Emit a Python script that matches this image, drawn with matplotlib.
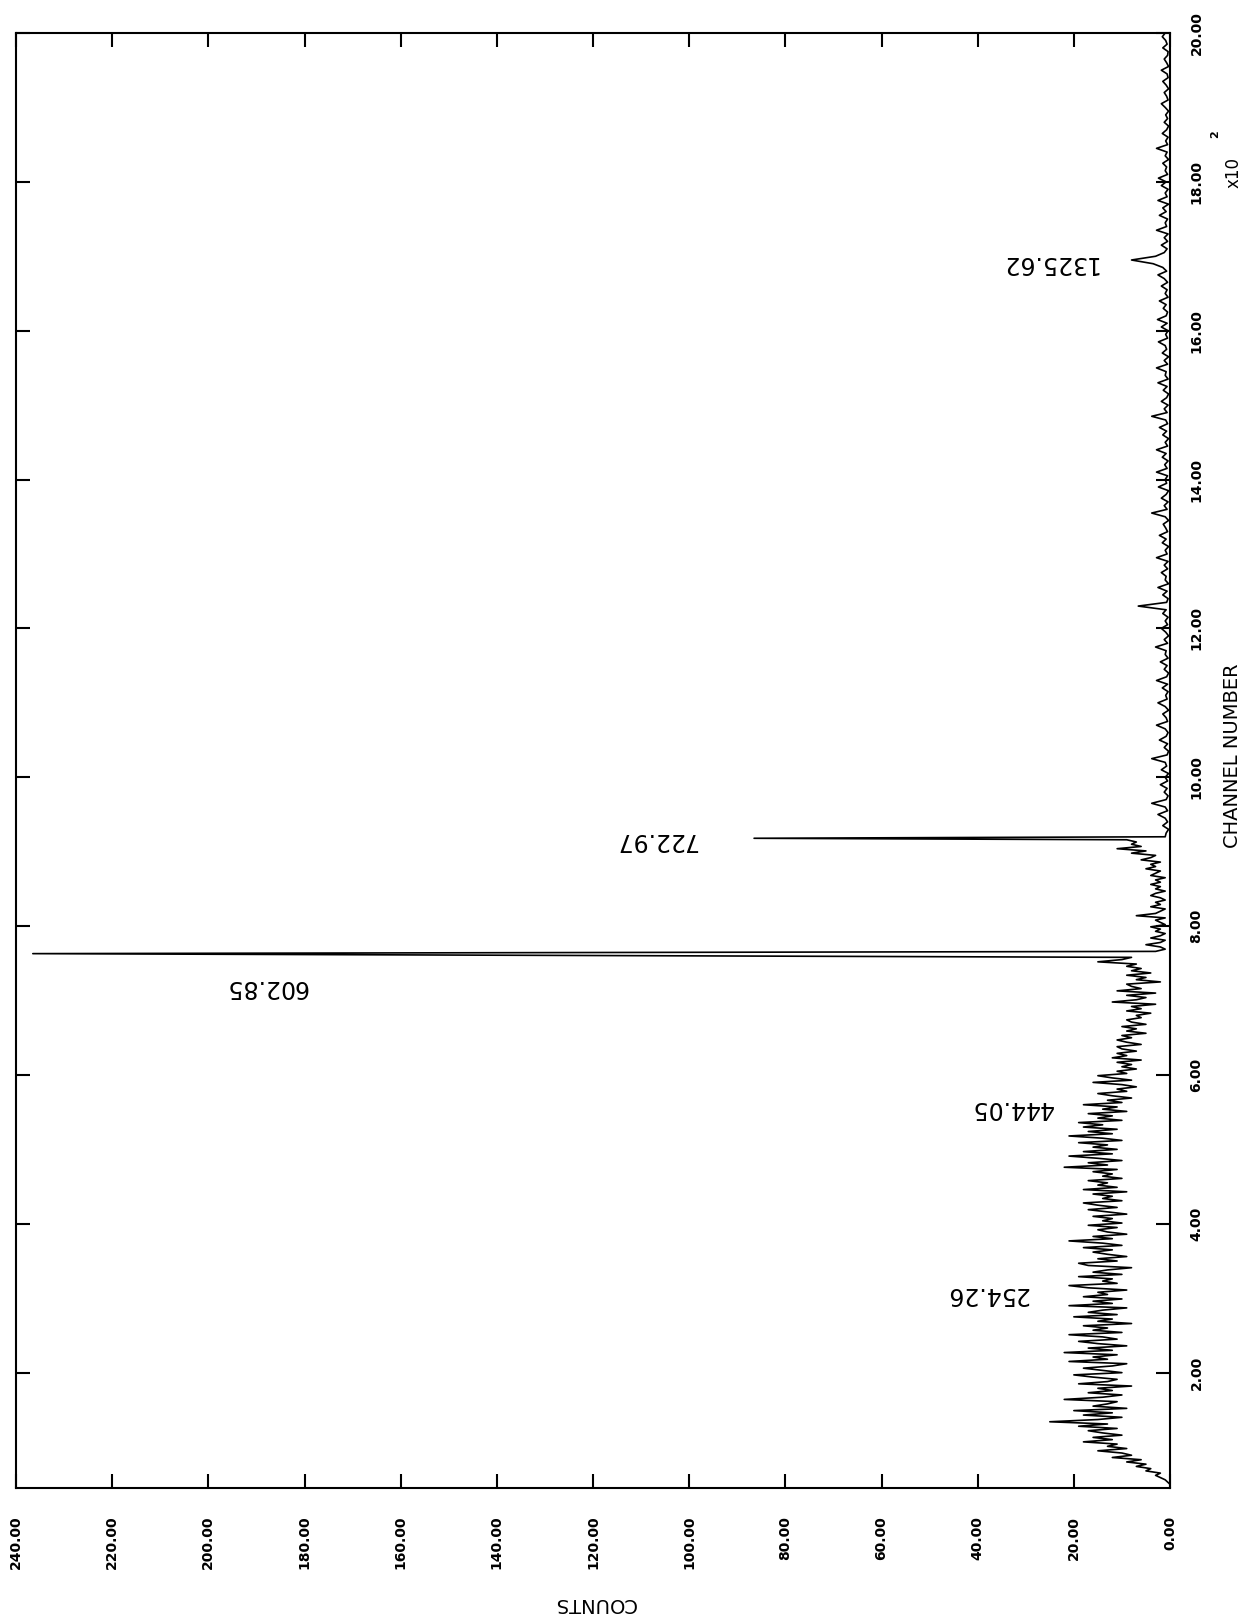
import numpy as np
import matplotlib
matplotlib.use("Agg")
import matplotlib.pyplot as plt

# ---------------- data ----------------
low_start, low_step = 50, 3
low_counts = [
    0, 0.5, 1, 2, 3, 2, 5, 4, 7, 5, 9, 6, 12, 8, 10, 15, 9, 13, 11, 18,
    12, 16, 10, 14, 17, 11, 19, 13, 25, 15, 10, 18, 12, 20, 9, 16, 13, 11, 22, 14,
    10, 17, 12, 15, 8, 19, 13, 11, 16, 20, 10, 14, 18, 12, 9, 21, 13, 16, 11, 22,
    12, 17, 9, 15, 19, 11, 14, 21, 10, 16, 13, 18, 8, 15, 12, 20, 11, 17, 14, 9,
    21, 12, 16, 10, 18, 13, 15, 9, 17, 21, 11, 14, 12, 19, 10, 16, 13, 8, 17, 19,
    11, 15, 9, 13, 16, 12, 18, 10, 14, 21, 12, 16, 9, 13, 15, 11, 17, 10, 14, 12,
    16, 9, 13, 17, 11, 15, 18, 10, 14, 12, 16, 9, 18, 11, 15, 13, 17, 10, 14, 12,
    16, 11, 22, 13, 17, 10, 15, 21, 12, 18, 11, 16, 13, 19, 10, 14, 21, 12, 17, 11,
    18, 14, 19, 10, 15, 12, 17, 9, 14, 11, 18, 10, 13, 8, 12, 15, 9, 11, 7, 10,
    16, 8, 12, 15, 9, 11, 7, 10, 8, 11, 6, 12, 9, 11, 7, 10, 11, 6, 9, 11,
    8, 10, 5, 9, 7, 10, 5, 8, 9, 6, 7, 4, 9, 6, 8, 3, 12, 7, 5, 9,
    3, 11, 6, 8, 9, 2, 7, 5, 9, 4, 8, 6, 9, 7, 15, 10, 8,
]
mid_start, mid_step = 766, 3
mid_counts = [
    3, 1, 2, 5, 2, 1, 4, 2, 1, 3, 2, 4, 1, 2, 3, 1, 7, 3, 2, 1,
    4, 2, 3, 1, 2, 4, 3, 1, 3, 2, 4, 2, 3, 1, 4, 3, 2, 5, 3, 4,
    2, 6, 4, 3, 8, 5, 11, 6, 8, 7, 9,
]
high_start, high_step = 920, 5
high_counts = [
    1,
    0.8, 0.3, 1.5, 0.5, 1, 2.5, 0.5, 1, 3.8, 0.8, 0.4, 1.2, 0.6, 2, 0.5, 1, 0.3, 1.8, 0.7, 1,
    3.8, 0.6, 0.3, 1.2, 0.5, 2.2, 0.8, 0.4, 1, 2.8, 0.5, 0.8, 1.5, 0.3, 1, 2.5, 0.6, 0.9, 0.4, 1.6,
    0.5, 2.8, 0.7, 0.3, 1.2, 0.6, 2, 0.4, 1, 0.8, 3, 0.5, 1.2, 0.3, 0.9, 1.8, 0.5, 1, 0.4, 1.5,
    0.8, 6.6, 0.7, 0.4, 1.5, 0.6, 2.5, 0.3, 1, 0.8, 1.8, 0.5, 1.2, 0.4, 2.8, 0.6, 1, 0.3, 1.6, 0.8,
    2.2, 0.5, 0.9, 1.4, 0.3, 1, 3.8, 0.6, 1.2, 0.4, 1.8, 0.8, 0.3, 2.4, 0.7, 1, 0.5, 2.8, 0.6, 1.1,
    0.4, 1.6, 0.8, 2.8, 0.5, 1, 0.3, 1.5, 0.7, 2.2, 0.5, 0.9, 3.8, 0.6, 1.2, 0.4, 1.8, 0.7, 0.3, 1.4,
    0.6, 2.5, 0.4, 1, 0.8, 2.8, 0.5, 1.2, 0.3, 1.6, 0.7, 1, 2.4, 0.5, 0.9, 0.4, 1.8, 0.6, 2.6, 0.8,
    0.5, 1.4, 0.8, 2.2, 0.4, 1, 0.6, 1.8, 0.5, 1.2, 2.5, 0.7, 1.5, 3.5, 8, 3, 1.2, 0.6, 1.8, 0.5,
    1.2, 0.4, 2.8, 0.7, 1, 0.5, 2.2, 0.8, 1.5, 0.3, 2.5, 0.6, 1, 0.4, 1.8, 0.8, 2.4, 0.5, 1, 0.7,
    1.5, 0.3, 1, 0.6, 2.8, 0.5, 0.9, 0.4, 1.6, 0.7, 0.3, 1.2, 0.5, 0.9, 0.3, 1, 1.8, 0.4, 0.7, 1.2,
    0.3, 0.8, 1.5, 0.4, 0.6, 1.8, 0.3, 0.7, 1.2, 0.5, 0.4, 1.5, 0.6, 0.9, 1.6, 1,
]
peak_channels = [763, 918]
peak_counts = [236.5, 86.5]

count_ticks = [0, 20, 40, 60, 80, 100, 120, 140, 160, 180, 200, 220, 240]
channel_ticks = [200, 400, 600, 800, 1000, 1200, 1400, 1600, 1800, 2000]

peak_labels = ["1325.62", "722.97", "602.85", "444.05", "254.26"]
label_channels = [1691, 916, 718, 556, 305]
label_counts = [25.2, 106.9, 188.0, 33.0, 38.0]

# ---------------- assemble spectrum ----------------
ch = np.concatenate([
    low_start + low_step * np.arange(len(low_counts)),
    mid_start + mid_step * np.arange(len(mid_counts)),
    high_start + high_step * np.arange(len(high_counts)),
    np.array(peak_channels),
]).astype(float)
ct = np.concatenate([low_counts, mid_counts, high_counts, peak_counts]).astype(float)
order = np.argsort(ch)
ch, ct = ch[order], ct[order]

# ---------------- figure ----------------
W, H = 1253, 1622
fig = plt.figure(figsize=(W / 100, H / 100), dpi=100)
L, R, T, B = 16, 1170, 33, 1488
ax = fig.add_axes([L / W, 1 - B / H, (R - L) / W, (B - T) / H])

ax.plot(ct, ch, color="black", lw=1.2)

ax.set_xlim(240, 0)
ax.set_ylim(45, 2000)

for s in ax.spines.values():
    s.set_linewidth(1.5)

ax.set_xticks(count_ticks)
ax.set_xticklabels([f"{v:.2f}" for v in count_ticks], rotation=90,
                   fontsize=10, fontweight="bold")
ax.set_yticks(channel_ticks)
ax.set_yticklabels([f"{v / 100:.2f}" for v in channel_ticks], rotation=90,
                   fontsize=10, fontweight="bold", va="center")
ax.tick_params(axis="x", direction="in", length=10, width=1.5, top=True,
               bottom=True, labelbottom=True, labeltop=False, pad=20)
ax.tick_params(axis="y", direction="in", length=10, width=1.5, left=True,
               right=True, labelleft=False, labelright=True, pad=14)

for lab, c, n in zip(peak_labels, label_counts, label_channels):
    ax.text(c, n, lab, rotation=180, ha="center", va="center", fontsize=17)

fig.text(1232 / W, 1 - 756 / H, "CHANNEL NUMBER", rotation=90,
         ha="center", va="center", fontsize=14)
fig.text(1234 / W, 1 - 172 / H, "x10", rotation=90,
         ha="center", va="center", fontsize=12)
fig.text(1215 / W, 1 - 134 / H, "2", rotation=90,
         ha="center", va="center", fontsize=8, fontweight="bold")
fig.text(595 / W, 1 - 1603 / H, "COUNTS", rotation=180,
         ha="center", va="center", fontsize=14)

fig.savefig("out.png", dpi=100)
